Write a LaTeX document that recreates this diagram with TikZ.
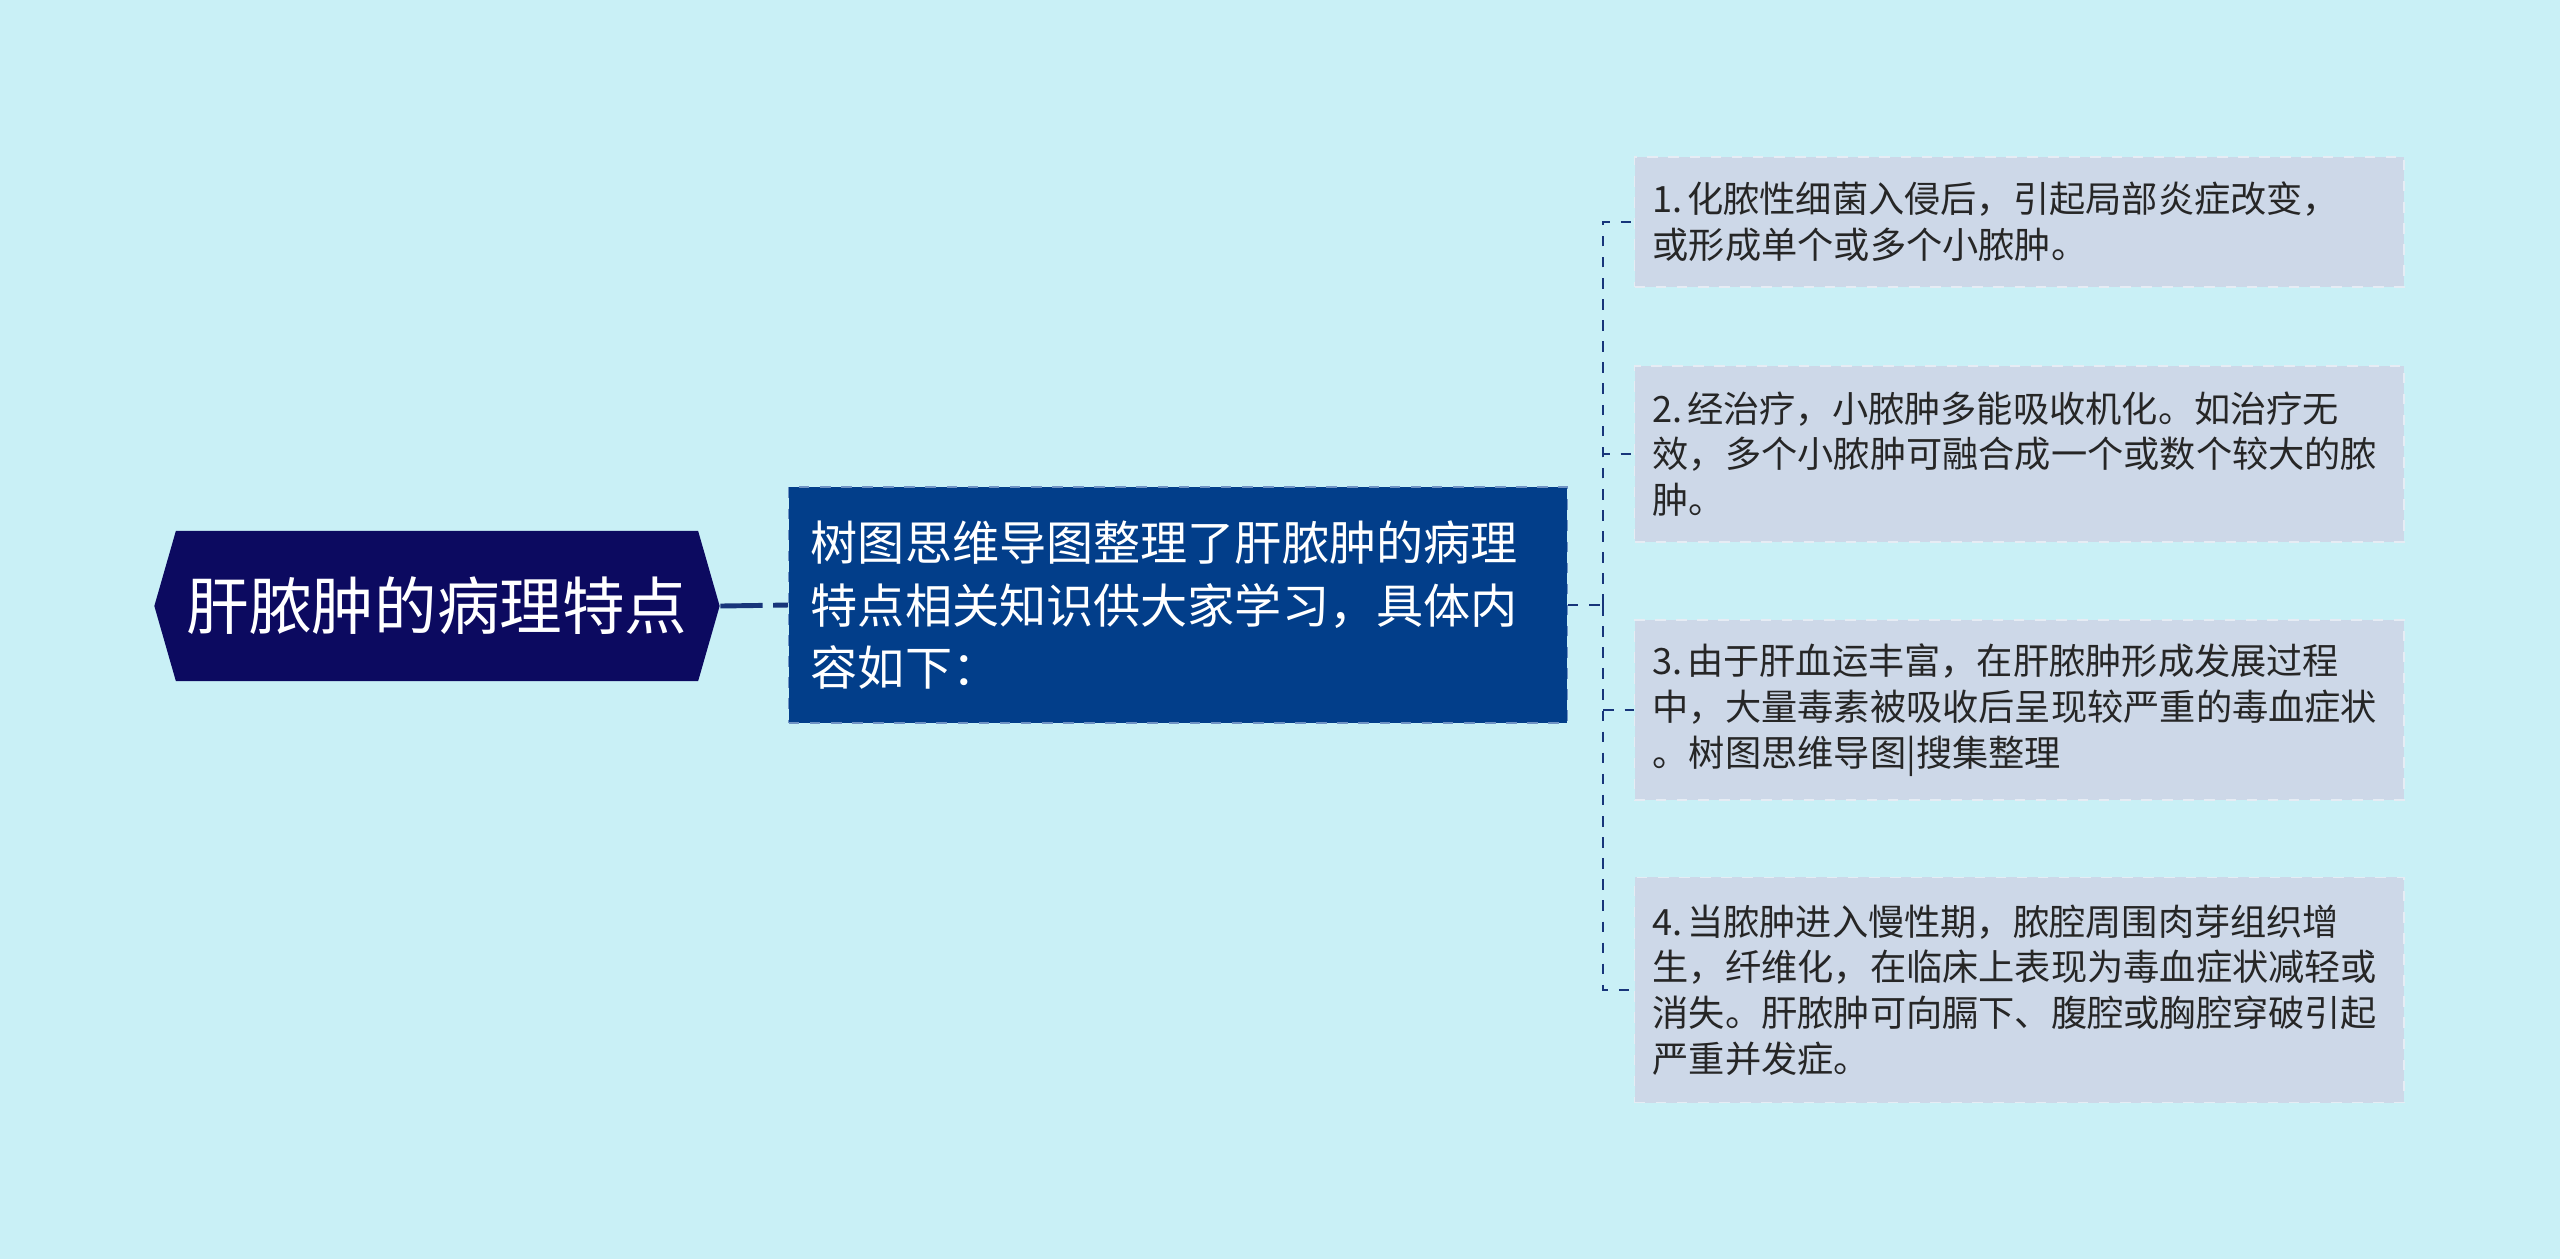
\documentclass[tikz,border=0pt]{standalone}
\usepackage{fontspec}
\setmainfont{Noto Sans CJK SC}
\usetikzlibrary{shapes.symbols,positioning}

\definecolor{bgcyan}{HTML}{C9F0F6}
\definecolor{rootnavy}{HTML}{0C0A60}
\definecolor{midblue}{HTML}{023E8A}
\definecolor{midedge}{HTML}{6F93C4}
\definecolor{boxgray}{HTML}{CDD8E8}
\definecolor{boxedge}{HTML}{E6ECF4}
\definecolor{linkblue}{HTML}{17357A}
\newcommand{\numgap}{\hspace{0.12em}}

\begin{document}
\begin{tikzpicture}[
    x=0.01cm, y=-0.01cm,
    topic/.style={signal, signal to=west and east, signal pointer angle=148, fill=rootnavy, text=white,
        font=\fontsize{17.8}{22}\selectfont, minimum width=5.65cm, minimum height=1.5cm, inner sep=0pt},
    summary/.style={rectangle, draw=midedge, dashed, fill=midblue, text=white, align=left,
        font=\fontsize{13.4}{17.8}\selectfont, text width=7.34cm, inner xsep=0.22cm, minimum height=2.36cm},
    detail/.style={rectangle, draw=boxedge, dashed, fill=boxgray, text=black!85, align=left, anchor=west,
        font=\fontsize{10.3}{13}\selectfont, text width=7.33cm, inner xsep=0.18cm},
    link/.style={draw=linkblue, dashed, line width=0.7pt}
]

\useasboundingbox (0,0) rectangle (2560,1259);
\fill[bgcyan] (0,0) rectangle (2560,1259);

% Topic and summary
\node[topic] (root) at (437,606) {肝脓肿的病理特点};
\node[summary] (mid) at (1178,605) {树图思维导图整理了肝脓肿的病理\\特点相关知识供大家学习，具体内\\容如下：};

% Details
\node[detail, minimum height=1.30cm] (d1) at (1634,222) {1.\numgap 化脓性细菌入侵后，引起局部炎症改变，\\或形成单个或多个小脓肿。};
\node[detail, minimum height=1.76cm] (d2) at (1634,454) {2.\numgap 经治疗，小脓肿多能吸收机化。如治疗无\\效，多个小脓肿可融合成一个或数个较大的脓\\肿。};
\node[detail, minimum height=1.80cm] (d3) at (1634,710) {3.\numgap 由于肝血运丰富，在肝脓肿形成发展过程\\中，大量毒素被吸收后呈现较严重的毒血症状\\。树图思维导图|搜集整理};
\node[detail, minimum height=2.25cm] (d4) at (1634,990) {4.\numgap 当脓肿进入慢性期，脓腔周围肉芽组织增\\生，纤维化，在临床上表现为毒血症状减轻或\\消失。肝脓肿可向膈下、腹腔或胸腔穿破引起\\严重并发症。};

% Links
\draw[draw=linkblue, line width=1.4pt, dash pattern=on 12pt off 3pt] (root.east) -- (mid.west);
\draw[link] (mid.east) -- ++(35,0) coordinate (fork);
\foreach \b in {d1,d2,d3,d4}
    \draw[link] (fork) |- (\b.west);

\end{tikzpicture}
\end{document}
